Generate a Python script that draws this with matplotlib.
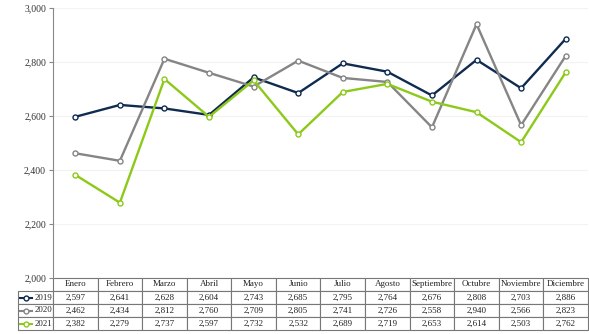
import matplotlib.pyplot as plt
from matplotlib.lines import Line2D

plt.rcParams['font.family'] = ['Liberation Serif', 'DejaVu Serif']

meses = ['Enero', 'Febrero', 'Marzo', 'Abril', 'Mayo', 'Junio', 'Julio',
         'Agosto', 'Septiembre', 'Octubre', 'Noviembre', 'Diciembre']
v2019 = [2597, 2641, 2628, 2604, 2743, 2685, 2795, 2764, 2676, 2808, 2703, 2886]
v2020 = [2462, 2434, 2812, 2760, 2709, 2805, 2741, 2726, 2558, 2940, 2566, 2823]
v2021 = [2382, 2279, 2737, 2597, 2732, 2532, 2689, 2719, 2653, 2614, 2503, 2762]
anios = ['2019', '2020', '2021']
series = [v2019, v2020, v2021]
colores = ['#0f2b50', '#858585', '#8cc919']

fig = plt.figure(figsize=(5.89, 3.34), dpi=100)
ax = fig.add_axes([53/589, 1-278/334, 535/589, 270/334])

x = list(range(len(meses)))
for vals, c in zip(series, colores):
    ax.plot(x, vals, color=c, lw=1.7, marker='o', ms=3.6,
            mfc='white', mec=c, mew=1.0, zorder=3)

ax.set_xlim(-0.5, 11.5)
ax.set_ylim(2000, 3000)
ax.set_yticks(range(2000, 3001, 200))
ax.set_yticklabels([f'{t:,}' for t in range(2000, 3001, 200)], fontsize=7, color='#333333')
ax.set_xticks([])
ax.grid(axis='y', color='#f2f2f2', lw=0.8)
ax.set_axisbelow(True)
for s in ['top', 'right', 'bottom']:
    ax.spines[s].set_visible(False)
ax.spines['left'].set_color('#888888')
ax.tick_params(axis='y', length=3, color='#888888', pad=2)

# tabla de datos
filas = [[''] + [f'{v:,}' for v in vals] for vals in series]
lab_w = 35/535
tab = ax.table(cellText=filas, colLabels=[''] + meses,
               colWidths=[lab_w] + [1/12]*12, cellLoc='center',
               bbox=[-lab_w, -52/270, 1 + lab_w, 52/270])
tab.auto_set_font_size(False)
for (r, c), cell in tab.get_celld().items():
    cell.set_edgecolor('#777777')
    cell.set_linewidth(0.8)
    cell.get_text().set_fontsize(6.5)
    cell.get_text().set_color('#222222')
    if r == 0 and c == 0:
        cell.visible_edges = ''

# simbolos de la leyenda en la tabla
for i, (a, c) in enumerate(zip(anios, colores)):
    yy = 1 - (291 + 13*i + 6.5)/334
    fig.add_artist(Line2D([20/589, 32/589], [yy, yy], color=c, lw=1.5))
    fig.add_artist(Line2D([26/589], [yy], color=c, marker='o', ms=3.5,
                          mfc='white', mec=c, mew=1, ls=''))
    fig.text(52/589, yy, a, ha='right', va='center', fontsize=6.3, color='#222222')

fig.savefig('out.png', dpi=100)
